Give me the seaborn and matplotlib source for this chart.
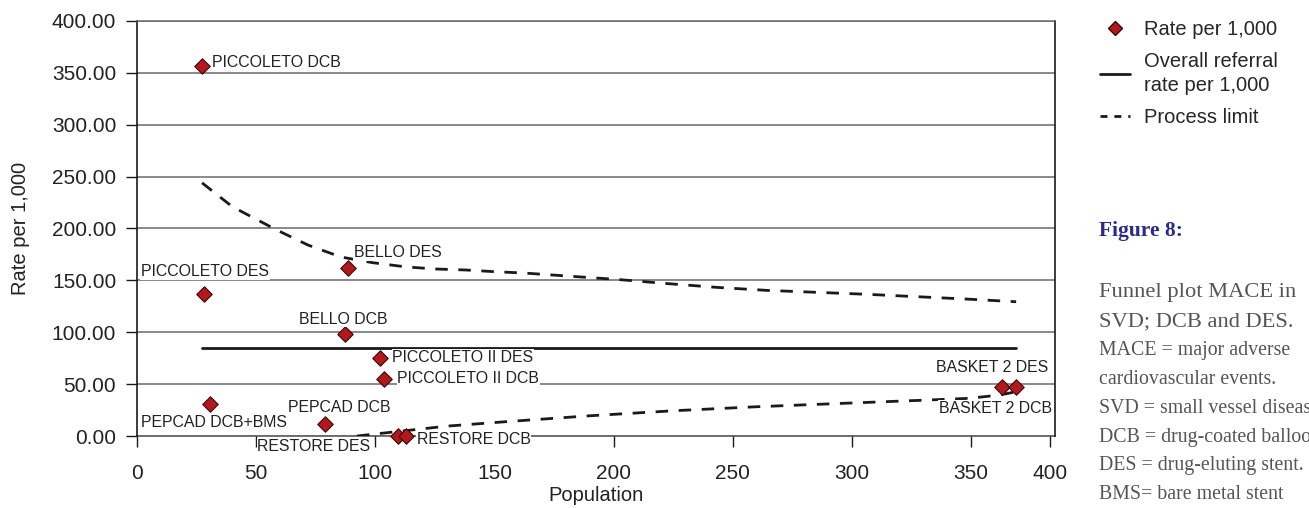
import matplotlib
matplotlib.use("Agg")
import matplotlib.pyplot as plt
import seaborn as sns
import pandas as pd
from matplotlib.lines import Line2D

# Studies: population and rate per 1,000
studies = ['PICCOLETO DCB', 'PICCOLETO DES', 'BELLO DES', 'BELLO DCB',
           'PICCOLETO II DES', 'PICCOLETO II DCB', 'PEPCAD DCB+BMS', 'PEPCAD DCB',
           'RESTORE DES', 'RESTORE DCB', 'BASKET 2 DES', 'BASKET 2 DCB']
population = [27.3, 28.0, 88.5, 87.3, 102.1, 103.8, 30.6, 78.9, 109.7, 112.8, 363.1, 368.9]
rate = [357.0, 136.9, 161.6, 98.3, 75.5, 55.3, 30.8, 11.6, 0.3, 0.3, 47.5, 47.2]

# overall referral rate
overall_x = [27.3, 368.9]
overall_y = [84.5, 84.5]

# process limits (upper / lower)
upper_x = [27.3, 40.0, 58.6, 71.8, 85.6, 99.0, 112.8, 125.0, 138.0, 150.0, 163.0,
           175.5, 188.0, 201.0, 222.0, 243.0, 264.0, 285.0, 306.0, 327.0, 348.0, 368.9]
upper_y = [244.0, 221.0, 198.6, 184.0, 172.5, 167.0, 163.0, 161.0, 160.0, 158.4, 157.0,
           155.0, 153.0, 151.0, 147.0, 143.3, 140.4, 138.5, 136.6, 134.3, 132.0, 129.4]
lower_x = [92.3, 109.0, 130.0, 154.8, 190.0, 225.6, 260.0, 296.3, 330.0, 349.1, 362.0, 368.9]
lower_y = [0.0, 4.2, 9.5, 13.8, 19.5, 24.4, 28.2, 31.5, 34.5, 36.3, 39.5, 42.7]

# label offsets in pixels (dx, dy, ha)
label_pos = {
    'PICCOLETO DCB': (10, 3, 'left'),
    'PICCOLETO DES': (1, 22, 'center'),
    'BELLO DES': (6, 16, 'left'),
    'BELLO DCB': (-2, 15, 'center'),
    'PICCOLETO II DES': (12, 0, 'left'),
    'PICCOLETO II DCB': (13, 0, 'left'),
    'PEPCAD DCB+BMS': (4, -18, 'center'),
    'PEPCAD DCB': (14, 16, 'center'),
    'RESTORE DES': (-28, -11, 'right'),
    'RESTORE DCB': (11, -4, 'left'),
    'BASKET 2 DES': (46, 19, 'right'),
    'BASKET 2 DCB': (36, -21, 'right'),
}

sns.set_style('white')
plt.rcParams['font.family'] = ['Liberation Sans', 'DejaVu Sans']

df = pd.DataFrame({'study': studies, 'Population': population, 'Rate': rate})

fig = plt.figure(figsize=(13.09, 5.08), dpi=100)
ax = fig.add_axes([137 / 1309, 72 / 508, 918 / 1309, 415 / 508])

red = '#b2191e'
ink = '#1a1a1a'
txt = '#222222'

sns.lineplot(x=overall_x, y=overall_y, color=ink, linewidth=2.0, ax=ax)
sns.lineplot(x=upper_x, y=upper_y, color=ink, linewidth=2.0, ax=ax,
             linestyle=(0, (4.5, 3.8)))
sns.lineplot(x=lower_x, y=lower_y, color=ink, linewidth=2.0, ax=ax,
             linestyle=(0, (4.5, 3.8)))
sns.scatterplot(data=df, x='Population', y='Rate', marker='D', s=62,
                color=red, edgecolor='#3a0808', linewidth=0.8, zorder=5,
                clip_on=False, ax=ax)

for name, px, r in zip(studies, population, rate):
    dx, dy, ha = label_pos[name]
    ax.annotate(name, (px, r), xytext=(dx, dy), textcoords='offset pixels',
                ha=ha, va='center', fontsize=11.4, color=txt, zorder=6,
                annotation_clip=False,
                bbox=dict(boxstyle='square,pad=0.05', fc='white', ec='none'))

ax.set_xlim(0, 385.2)
ax.set_ylim(0, 400)
ax.set_xticks([0, 50, 100, 150, 200, 250, 300, 350, 383],
              ['0', '50', '100', '150', '200', '250', '300', '350', '400'])
ax.xaxis.get_major_ticks()[-1].tick1line.set_visible(False)
ax.set_yticks(range(0, 401, 50), [f'{v:.2f}' for v in range(0, 401, 50)])
ax.yaxis.grid(True, color='#6a6a6a', linewidth=1.1)
ax.set_axisbelow(True)
ax.tick_params(axis='both', direction='out', length=8, width=1.0, color=ink,
               labelsize=15, labelcolor=txt, bottom=True, left=True)
ax.tick_params(axis='x', pad=12)
ax.tick_params(axis='y', pad=7)
for side in ['left', 'right']:
    ax.spines[side].set_color(ink)
    ax.spines[side].set_linewidth(1.2)
ax.spines['top'].set_color('#6a6a6a')
ax.spines['top'].set_linewidth(1.1)
ax.spines['bottom'].set_color('#4a4a4a')
ax.spines['bottom'].set_linewidth(1.1)
ax.spines['bottom'].set_zorder(0.5)

ax.set_xlabel('Population', fontsize=14.5, color=txt, labelpad=2)
ax.set_ylabel('Rate per 1,000', fontsize=14.5, color=txt, labelpad=16)

handles = [
    Line2D([], [], marker='D', linestyle='none', markersize=7,
           markerfacecolor=red, markeredgecolor='#3a0808'),
    Line2D([], [], color=ink, linewidth=2.0),
    Line2D([], [], color=ink, linewidth=2.0, linestyle=(0, (2.5, 2.5))),
]
leg = fig.legend(handles, ['Rate per 1,000', 'Overall referral\nrate per 1,000', 'Process limit'],
                 loc='upper left', bbox_to_anchor=(1092 / 1309, 1 - 12 / 508),
                 frameon=False, fontsize=14.5, handlelength=1.5, handletextpad=0.7,
                 labelspacing=0.65, borderaxespad=0)
for t in leg.get_texts():
    t.set_linespacing(1.35)

fig.text(1099 / 1309, 1 - 231 / 508, 'Figure 8:', family='Liberation Serif',
         fontweight='bold', fontsize=15.5, color='#2b2a8c', va='center')
fig.text(1099 / 1309, 1 - 293 / 508, 'Funnel plot MACE in', family='Liberation Serif',
         fontsize=16.2, color='#555555', va='center')
fig.text(1099 / 1309, 1 - 322 / 508, 'SVD; DCB and DES.', family='Liberation Serif',
         fontsize=16.2, color='#555555', va='center')
small_lines = ['MACE = major adverse', 'cardiovascular events.',
               'SVD = small vessel disease', 'DCB = drug-coated balloon',
               'DES = drug-eluting stent.', 'BMS= bare metal stent']
for i, line in enumerate(small_lines):
    fig.text(1099 / 1309, 1 - (351 + 28.7 * i) / 508, line, family='Liberation Serif',
             fontsize=14.3, color='#555555', va='center')

fig.savefig('out.png', dpi=100)
